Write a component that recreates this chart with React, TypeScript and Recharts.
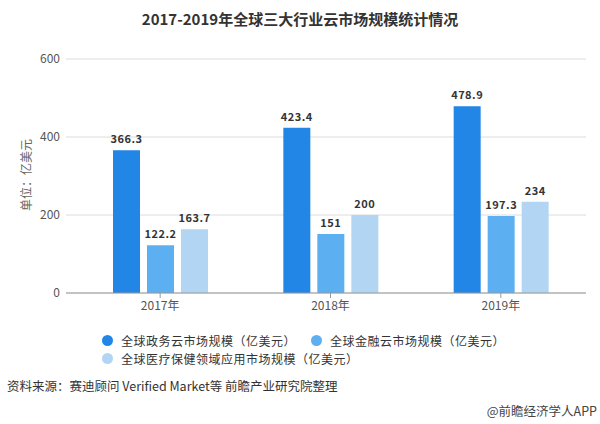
import { BarChart, Bar, XAxis, YAxis, CartesianGrid, LabelList } from 'recharts';

const years = ['2017年', '2018年', '2019年'];
const govCloud = [366.3, 423.4, 478.9];
const financeCloud = [122.2, 151, 197.3];
const healthCloud = [163.7, 200, 234];
const yTicks = [0, 200, 400, 600];

const seriesNames = [
  '全球政务云市场规模（亿美元）',
  '全球金融云市场规模（亿美元）',
  '全球医疗保健领域应用市场规模（亿美元）',
];
const COLORS = ['#2186e6', '#5cb0f2', '#b3d5f4'];

const FONT = '"Noto Sans CJK SC", "Noto Sans", sans-serif';

const data = years.map((year, i) => ({
  year,
  gov: govCloud[i],
  finance: financeCloud[i],
  health: healthCloud[i],
}));

const labelStyle = { fontSize: 11, fontWeight: 700, fill: '#333', letterSpacing: 0.5 };

function LegendItem({ color, text, x, y }: { color: string; text: string; x: number; y: number }) {
  return (
    <div style={{ position: 'absolute', left: x - 6, top: y - 7, display: 'flex', alignItems: 'center', height: 14 }}>
      <span style={{ width: 11, height: 11, borderRadius: '50%', background: color, display: 'inline-block' }} />
      <span style={{ marginLeft: 8, fontSize: 12, letterSpacing: 0.5, lineHeight: '14px', color: '#333' }}>{text}</span>
    </div>
  );
}

export default function App() {
  return (
    <div style={{ position: 'absolute', left: 0, top: 0, width: 600, height: 424, background: '#fff', fontFamily: FONT }}>
      <div style={{ position: 'absolute', top: 8, width: 600, textAlign: 'center', fontSize: 15, fontWeight: 700, color: '#333' }}>
        2017-2019年全球三大行业云市场规模统计情况
      </div>
      <div
        style={{
          position: 'absolute', left: 25, top: 175, fontSize: 12, color: '#666', whiteSpace: 'nowrap',
          transform: 'translate(-50%, -50%) rotate(-90deg)',
        }}
      >
        单位：亿美元
      </div>
      <BarChart
        width={600}
        height={424}
        data={data}
        margin={{ top: 59, right: 14, bottom: 101, left: 0 }}
        barSize={27}
        barGap={7}
        style={{ position: 'absolute', left: 0, top: 0 }}
      >
        <CartesianGrid vertical={false} stroke="#dcdcdc" />
        <XAxis
          dataKey="year"
          padding={{ left: 9, right: 0 }}
          stroke="#999"
          tickSize={5}
          tickMargin={3}
          tick={{ fontSize: 12, fill: '#555', fontFamily: FONT }}
        />
        <YAxis
          width={66}
          domain={[0, 600]}
          ticks={yTicks}
          axisLine={false}
          tickLine={false}
          tickSize={0}
          tickMargin={6}
          tick={{ fontSize: 12, fill: '#555', fontFamily: FONT }}
        />
        <Bar dataKey="gov" fill={COLORS[0]} isAnimationActive={false}>
          <LabelList dataKey="gov" position="top" offset={7} style={labelStyle} />
        </Bar>
        <Bar dataKey="finance" fill={COLORS[1]} isAnimationActive={false}>
          <LabelList dataKey="finance" position="top" offset={7} style={labelStyle} />
        </Bar>
        <Bar dataKey="health" fill={COLORS[2]} isAnimationActive={false}>
          <LabelList dataKey="health" position="top" offset={7} style={labelStyle} />
        </Bar>
      </BarChart>
      <LegendItem color={COLORS[0]} text={seriesNames[0]} x={108} y={340.5} />
      <LegendItem color={COLORS[1]} text={seriesNames[1]} x={317} y={340.5} />
      <LegendItem color={COLORS[2]} text={seriesNames[2]} x={108} y={358.5} />
      <div style={{ position: 'absolute', left: 7, top: 376, fontSize: 12.5, color: '#333' }}>
        资料来源：赛迪顾问 Verified Market等 前瞻产业研究院整理
      </div>
      <div style={{ position: 'absolute', right: 3, top: 401, fontSize: 12.5, color: '#444' }}>
        @前瞻经济学人APP
      </div>
    </div>
  );
}
